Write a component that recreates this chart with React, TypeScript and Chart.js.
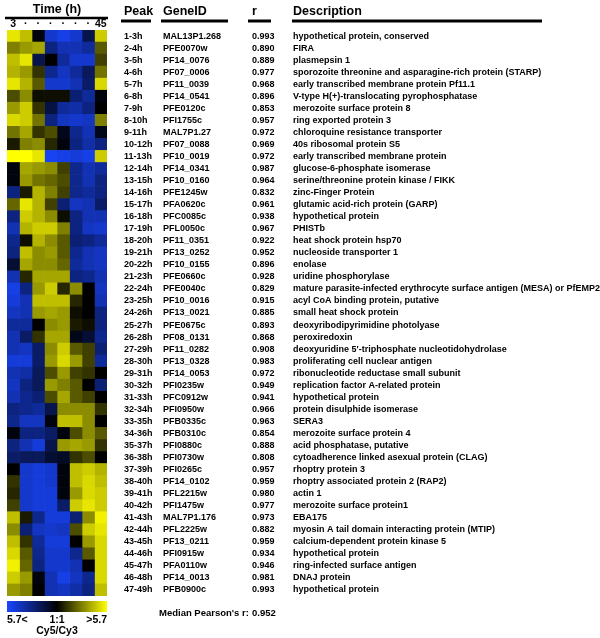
import React, { useEffect, useRef } from 'react';
import { Chart, registerables } from 'chart.js';

Chart.register(...registerables);

const TIME_LABELS = ['3', '·', '·', '·', '·', '·', '·', '45'];

const PEAKS = [
  '1-3h', '2-4h', '3-5h', '4-6h', '5-7h', '6-8h', '7-9h', '8-10h', '9-11h', '10-12h',
  '11-13h', '12-14h', '13-15h', '14-16h', '15-17h', '16-18h', '17-19h', '18-20h', '19-21h', '20-22h',
  '21-23h', '22-24h', '23-25h', '24-26h', '25-27h', '26-28h', '27-29h', '28-30h', '29-31h', '30-32h',
  '31-33h', '32-34h', '33-35h', '34-36h', '35-37h', '36-38h', '37-39h', '38-40h', '39-41h', '40-42h',
  '41-43h', '42-44h', '43-45h', '44-46h', '45-47h', '46-48h', '47-49h',
];

const GENE_IDS = [
  'MAL13P1.268', 'PFE0070w', 'PF14_0076', 'PF07_0006', 'PF11_0039', 'PF14_0541', 'PFE0120c', 'PFI1755c',
  'MAL7P1.27', 'PF07_0088', 'PF10_0019', 'PF14_0341', 'PF10_0160', 'PFE1245w', 'PFA0620c', 'PFC0085c',
  'PFL0050c', 'PF11_0351', 'PF13_0252', 'PF10_0155', 'PFE0660c', 'PFE0040c', 'PF10_0016', 'PF13_0021',
  'PFE0675c', 'PF08_0131', 'PF11_0282', 'PF13_0328', 'PF14_0053', 'PFI0235w', 'PFC0912w', 'PFI0950w',
  'PFB0335c', 'PFB0310c', 'PFI0880c', 'PFI0730w', 'PFI0265c', 'PF14_0102', 'PFL2215w', 'PFI1475w',
  'MAL7P1.176', 'PFL2225w', 'PF13_0211', 'PFI0915w', 'PFA0110w', 'PF14_0013', 'PFB0900c',
];

const R_VALUES = [
  0.993, 0.890, 0.889, 0.977, 0.968, 0.896, 0.853, 0.957, 0.972, 0.969,
  0.972, 0.987, 0.964, 0.832, 0.961, 0.938, 0.967, 0.922, 0.952, 0.896,
  0.928, 0.829, 0.915, 0.885, 0.893, 0.868, 0.908, 0.983, 0.972, 0.949,
  0.941, 0.966, 0.963, 0.854, 0.888, 0.808, 0.957, 0.959, 0.980, 0.977,
  0.973, 0.882, 0.959, 0.934, 0.946, 0.981, 0.993,
];

const DESCRIPTIONS = [
  'hypothetical protein, conserved',
  'FIRA',
  'plasmepsin 1',
  'sporozoite threonine and asparagine-rich protein (STARP)',
  'early transcribed membrane protein Pf11.1',
  'V-type H(+)-translocating pyrophosphatase',
  'merozoite surface protein 8',
  'ring exported protein 3',
  'chloroquine resistance transporter',
  '40s ribosomal protein S5',
  'early transcribed membrane protein',
  'glucose-6-phosphate isomerase',
  'serine/threonine protein kinase / FIKK',
  'zinc-Finger Protein',
  'glutamic acid-rich protein (GARP)',
  'hypothetical protein',
  'PHISTb',
  'heat shock protein hsp70',
  'nucleoside transporter 1',
  'enolase',
  'uridine phosphorylase',
  'mature parasite-infected erythrocyte surface antigen (MESA) or PfEMP2',
  'acyl CoA binding protein, putative',
  'small heat shock protein',
  'deoxyribodipyrimidine photolyase',
  'peroxiredoxin',
  "deoxyuridine 5'-triphosphate nucleotidohydrolase",
  'proliferating cell nuclear antigen',
  'ribonucleotide reductase small subunit',
  'replication factor A-related protein',
  'hypothetical protein',
  'protein disulphide isomerase',
  'SERA3',
  'merozoite surface protein 4',
  'acid phosphatase, putative',
  'cytoadherence linked asexual protein (CLAG)',
  'rhoptry protein 3',
  'rhoptry associated protein 2 (RAP2)',
  'actin 1',
  'merozoite surface protein1',
  'EBA175',
  'myosin A tail domain interacting protein (MTIP)',
  'calcium-dependent protein kinase 5',
  'hypothetical protein',
  'ring-infected surface antigen',
  'DNAJ protein',
  'hypothetical protein',
];

// log-ratio expression, scaled to [-1, 1] (blue = low, yellow = high), one array per time point
const T3 = [0.9, 0.5, 0.75, 0.7, 0.9, 0.3, 0.6, 0.85, 0.45, 0.1, 1, -0.05, -0.05, -0.5, 0.4, -0.5, -0.7, -0.55, -0.5, -0.2, -0.7, -0.9, -0.85, -0.75, -0.6, -0.7, -0.7, -0.85, -0.7, -0.75, -0.7, -0.5, -0.55, -0.05, -0.5, -0.4, 0, 0.2, 0.15, 0.25, 0.75, 0.55, 0.75, 0.85, 0.95, 0.8, 0.6];
const T9 = [0.75, 0.6, 0.9, 0.6, 0.7, 0.55, 0.8, 0.8, 0.65, 0.5, 1, 0.65, 0.6, 0.1, 0.9, 0.8, 0.7, 0.05, 0.75, 0.65, 0.15, -0.5, -0.7, -0.7, -0.6, -0.4, -0.75, -0.85, -0.65, -0.5, -0.55, -0.55, -0.75, -0.5, -0.7, -0.35, -0.8, -0.8, -0.8, -0.8, 0.1, -0.45, 0.2, 0.35, 0.4, 0.6, 0.5];
const T15 = [-0.05, 0.65, -0.3, 0.2, 0.35, 0.05, 0.2, 0.45, 0.2, 0.55, 0.9, 0.6, 0.45, 0.7, 0.7, 0.7, 0.8, 0.7, 0.55, 0.55, 0.65, 0.6, 0.75, 0.6, 0, 0.2, -0.4, -0.4, -0.35, -0.35, -0.45, -0.6, -0.75, -0.5, -0.85, -0.35, -0.85, -0.85, -0.85, -0.85, -0.55, -0.75, -0.6, -0.55, -0.5, -0.05, 0];
const T21 = [-0.8, -0.5, 0, -0.55, -0.8, 0.05, -0.25, -0.5, 0.3, 0.15, -0.95, 0.55, 0.4, 0.5, 0.25, 0.55, 0.8, 0.55, 0.6, 0.55, 0.65, 0.8, 0.75, 0.65, 0.55, 0.65, 0.55, 0.6, 0.3, 0.6, 0.3, -0.3, -0.05, -0.4, -0.3, -0.2, -0.8, -0.8, -0.85, -0.85, -0.85, -0.8, -0.85, -0.8, -0.8, -0.7, -0.7];
const T27 = [-0.9, -0.7, -0.6, -0.75, -0.8, 0.05, -0.6, -0.75, -0.1, -0.05, -0.9, 0.25, 0.3, 0.25, -0.45, 0.05, 0.5, 0.35, 0.35, 0.4, 0.65, 0.15, 0.75, 0.6, 0.6, 0.65, 0.8, 0.85, 0.6, 0.5, 0.65, 0.55, 0.75, -0.05, 0.6, -0.15, -0.05, -0.05, -0.05, -0.4, -0.85, -0.75, -0.85, -0.8, -0.8, -0.9, -0.75];
const T33 = [-0.8, -0.7, -0.8, -0.6, -0.7, -0.45, -0.65, -0.8, -0.55, -0.5, -0.85, -0.55, -0.55, -0.55, -0.75, -0.5, -0.5, -0.45, -0.55, -0.6, -0.5, 0.55, 0.15, 0.05, 0.1, -0.1, 0.35, 0.6, 0.25, 0.35, 0.35, 0.55, 0.75, 0.3, 0.65, 0.2, 0.75, 0.75, 0.6, 0.8, -0.45, 0.3, 0, -0.55, -0.7, -0.75, -0.65];
const T39 = [-0.3, -0.6, -0.8, -0.35, -0.4, -0.6, -0.5, -0.75, -0.7, -0.65, -0.9, -0.7, -0.7, -0.6, -0.7, -0.7, -0.75, -0.5, -0.7, -0.7, -0.55, 0, 0, 0, 0.05, -0.2, 0.25, 0.25, 0.2, 0, 0.25, 0.55, 0.55, 0.55, 0.6, 0.3, 0.8, 0.85, 0.85, 0.9, 0.55, 0.8, 0.6, 0.35, 0, -0.55, -0.5];
const T45 = [0.8, 0.35, 0.25, 0.45, 0.85, -0.05, 0, 0.5, -0.1, -0.5, 0.8, -0.6, -0.5, -0.5, -0.4, -0.7, -0.8, -0.6, -0.75, -0.75, -0.7, -0.75, -0.7, -0.5, -0.5, -0.55, -0.45, -0.6, 0, -0.45, 0, 0.2, 0, 0.35, 0.2, 0, 0.7, 0.75, 0.8, 0.8, 0.95, 0.9, 0.85, 0.85, 0.85, 0.85, 0.75];

const COLUMNS = [T3, T9, T15, T21, T27, T33, T39, T45];

const MEDIAN_R = 0.952;
const SCALE_LABELS = ['5.7<', '1:1', '>5.7'];
const SCALE_TITLE = 'Cy5/Cy3';

const FONT = "'Liberation Sans Narrow', 'Arial Narrow', 'Liberation Sans', sans-serif";
const BLUE = [25, 70, 255];
const YELLOW = [255, 255, 0];

function heatColor(v: number): string {
  const a = Math.min(1, Math.abs(v));
  const c = v < 0 ? BLUE : YELLOW;
  return `rgb(${Math.round(c[0] * a)},${Math.round(c[1] * a)},${Math.round(c[2] * a)})`;
}

const tablePlugin = {
  id: 'tableText',
  afterDraw(chart: any) {
    const { ctx, chartArea, scales } = chart;
    const xs = scales.x;
    const ys = scales.y;
    const L = chartArea.left;
    const R = chartArea.right;
    const mid = (L + R) / 2;
    ctx.save();
    ctx.fillStyle = '#000';
    ctx.strokeStyle = '#000';
    ctx.textBaseline = 'middle';

    // heatmap header
    ctx.font = `bold 12.5px ${FONT}`;
    ctx.textAlign = 'center';
    ctx.fillText('Time (h)', mid, 10);
    ctx.lineWidth = 2.5;
    ctx.beginPath();
    ctx.moveTo(L - 2, 18);
    ctx.lineTo(R + 1, 18);
    ctx.stroke();
    ctx.font = `bold 10.5px ${FONT}`;
    TIME_LABELS.forEach((t, c) => {
      ctx.fillText(t, xs.getPixelForValue(c + 0.5), 24.5);
    });

    // table header
    const cols = [
      { title: 'Peak', x: 124, u0: 121, u1: 151 },
      { title: 'GeneID', x: 163, u0: 161, u1: 228 },
      { title: 'r', x: 252, u0: 248, u1: 271 },
      { title: 'Description', x: 293, u0: 292, u1: 542 },
    ];
    ctx.textAlign = 'left';
    ctx.font = `bold 12.5px ${FONT}`;
    ctx.lineWidth = 3;
    cols.forEach((c) => {
      ctx.fillText(c.title, c.x, 12);
      ctx.beginPath();
      ctx.moveTo(c.u0, 21);
      ctx.lineTo(c.u1, 21);
      ctx.stroke();
    });

    // table rows
    ctx.font = `bold 9px ${FONT}`;
    PEAKS.forEach((p, i) => {
      const y = ys.getPixelForValue(i);
      ctx.fillText(p, cols[0].x, y);
      ctx.fillText(GENE_IDS[i], cols[1].x, y);
      ctx.fillText(R_VALUES[i].toFixed(3), cols[2].x, y);
      ctx.fillText(DESCRIPTIONS[i], cols[3].x, y);
    });

    // median
    ctx.font = `bold 9.5px ${FONT}`;
    ctx.fillText("Median Pearson's r:", 159, 613);
    ctx.fillText(MEDIAN_R.toFixed(3), cols[2].x, 613);

    // colour scale
    const g = ctx.createLinearGradient(L, 0, R, 0);
    g.addColorStop(0, heatColor(-1));
    g.addColorStop(0.5, heatColor(0));
    g.addColorStop(1, heatColor(1));
    ctx.fillStyle = g;
    ctx.fillRect(L, 601, R - L, 11);
    ctx.fillStyle = '#000';
    ctx.font = `bold 10.5px ${FONT}`;
    ctx.textAlign = 'left';
    ctx.fillText(SCALE_LABELS[0], L, 620);
    ctx.textAlign = 'center';
    ctx.fillText(SCALE_LABELS[1], mid, 620);
    ctx.textAlign = 'right';
    ctx.fillText(SCALE_LABELS[2], R, 620);
    ctx.textAlign = 'center';
    ctx.fillText(SCALE_TITLE, mid, 631);
    ctx.restore();
  },
};

export default function App() {
  const ref = useRef<HTMLCanvasElement | null>(null);
  useEffect(() => {
    if (!ref.current) return;
    const chart = new Chart(ref.current, {
      type: 'bar',
      data: {
        labels: PEAKS,
        datasets: COLUMNS.map((col, c) => ({
          label: `${TIME_LABELS[c]}`,
          data: col.map(() => [c, c + 1]),
          backgroundColor: col.map(heatColor),
          borderWidth: 0,
          grouped: false,
          barPercentage: 1,
          categoryPercentage: 1,
        })) as any,
      },
      options: {
        indexAxis: 'y',
        animation: false,
        responsive: false,
        devicePixelRatio: 1,
        events: [],
        layout: { padding: { left: 7, right: 493, top: 30, bottom: 42 } },
        plugins: { legend: { display: false }, tooltip: { enabled: false } },
        scales: {
          x: { type: 'linear', min: 0, max: 8, display: false },
          y: { type: 'category', display: false, offset: true },
        },
      },
      plugins: [tablePlugin],
    });
    return () => chart.destroy();
  }, []);
  return (
    <div style={{ position: 'absolute', left: 0, top: 0, width: 600, height: 638, background: '#fff' }}>
      <canvas ref={ref} width={600} height={638} />
    </div>
  );
}
